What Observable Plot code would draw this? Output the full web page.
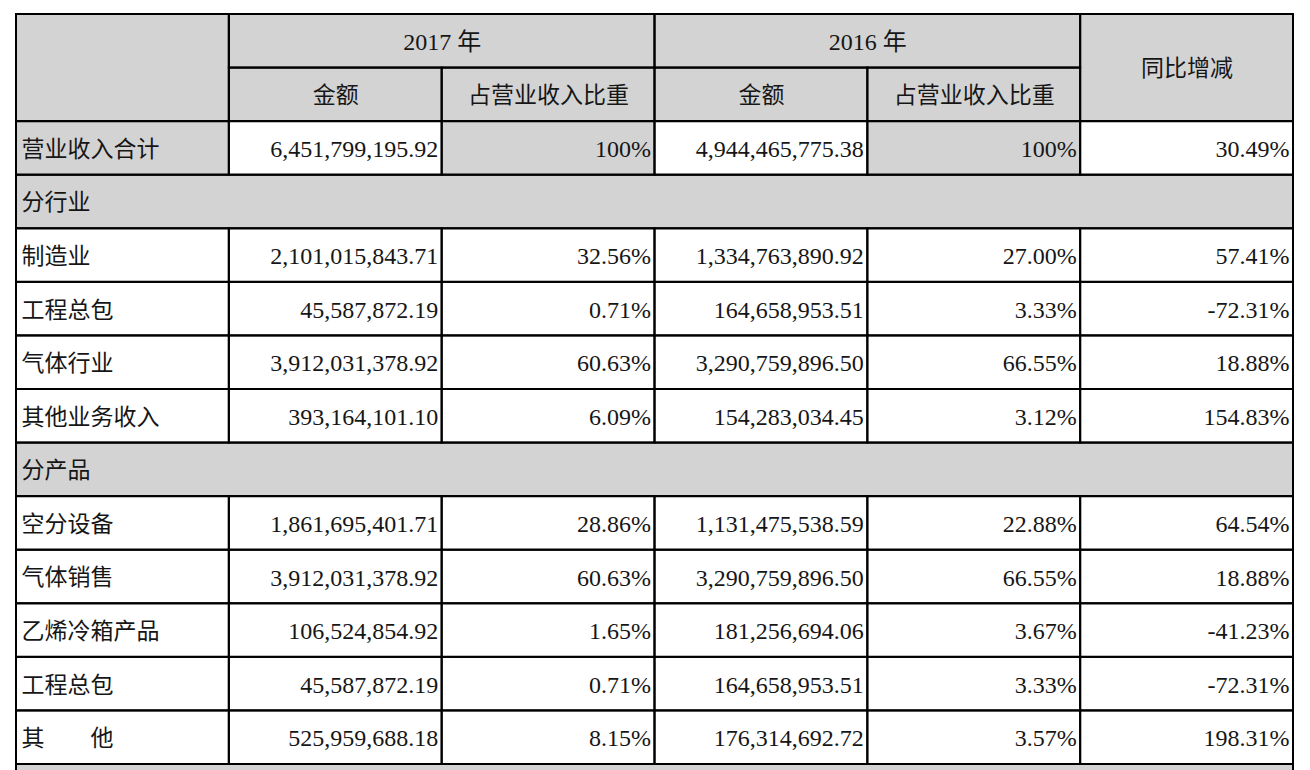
<!DOCTYPE html>
<html>
<head>
<meta charset="utf-8">
<script src="https://cdn.jsdelivr.net/npm/d3@7"></script>
<script src="https://cdn.jsdelivr.net/npm/@observablehq/plot@0.6"></script>
<style>
  html, body { margin: 0; padding: 0; background: #fff; overflow: hidden; }
</style>
</head>
<body>
<div id="chart"></div>
<script>
// ---- data ----
const yearHeaders = ["2017 年", "2016 年"];
const subHeaders = ["金额", "占营业收入比重"];
const yoyHeader = "同比增减";

const totalLabel = "营业收入合计";
const totalAmt2017 = 6451799195.92;
const totalPct2017 = 100;
const totalAmt2016 = 4944465775.38;
const totalPct2016 = 100;
const totalYoy = 30.49;

const sectionLabels = ["分行业", "分产品"];

const industryLabels = ["制造业", "工程总包", "气体行业", "其他业务收入"];
const industryAmt2017 = [2101015843.71, 45587872.19, 3912031378.92, 393164101.10];
const industryPct2017 = [32.56, 0.71, 60.63, 6.09];
const industryAmt2016 = [1334763890.92, 164658953.51, 3290759896.50, 154283034.45];
const industryPct2016 = [27.00, 3.33, 66.55, 3.12];
const industryYoy = [57.41, -72.31, 18.88, 154.83];

const productLabels = ["空分设备", "气体销售", "乙烯冷箱产品", "工程总包", "其\u3000\u3000他"];
const productAmt2017 = [1861695401.71, 3912031378.92, 106524854.92, 45587872.19, 525959688.18];
const productPct2017 = [28.86, 60.63, 1.65, 0.71, 8.15];
const productAmt2016 = [1131475538.59, 3290759896.50, 181256694.06, 164658953.51, 176314692.72];
const productPct2016 = [22.88, 66.55, 3.67, 3.33, 3.57];
const productYoy = [64.54, 18.88, -41.23, -72.31, 198.31];

// ---- build table ----
const GRAY = "#d3d3d3";
const WHITE = "#ffffff";
const fmtAmt = d3.format(",.2f");
const fmtPct = v => (v === 100 ? "100" : v.toFixed(2)) + "%";

const cells = [];   // {x1,x2,y1,y2,fill}
const texts = [];   // {x,y,text,anchor,size}

// header
cells.push({x1: 0, x2: 1, y1: 0, y2: 2, fill: GRAY});
yearHeaders.forEach((h, i) => {
  const c = 1 + i * 2;
  cells.push({x1: c, x2: c + 2, y1: 0, y2: 1, fill: GRAY});
  texts.push({x: c + 1, y: 0.5, text: h, anchor: "middle", size: 24});
  subHeaders.forEach((s, j) => {
    cells.push({x1: c + j, x2: c + j + 1, y1: 1, y2: 2, fill: GRAY});
    texts.push({x: c + j + 0.5, y: 1.5, text: s, anchor: "middle", size: 23});
  });
});
cells.push({x1: 5, x2: 6, y1: 0, y2: 2, fill: GRAY});
texts.push({x: 5.5, y: 1, text: yoyHeader, anchor: "middle", size: 23});

function addRow(r, label, vals, fills) {
  cells.push({x1: 0, x2: 1, y1: r, y2: r + 1, fill: fills[0]});
  texts.push({x: 0, y: r + 0.5, text: label, anchor: "start", size: 23});
  vals.forEach((v, j) => {
    cells.push({x1: j + 1, x2: j + 2, y1: r, y2: r + 1, fill: fills[j + 1]});
    texts.push({x: j + 2, y: r + 0.5, text: v, anchor: "end", size: 24});
  });
}
function addSection(r, label) {
  cells.push({x1: 0, x2: 6, y1: r, y2: r + 1, fill: GRAY});
  texts.push({x: 0, y: r + 0.5, text: label, anchor: "start", size: 23});
}

let row = 2;
addRow(row++, totalLabel,
  [fmtAmt(totalAmt2017), fmtPct(totalPct2017), fmtAmt(totalAmt2016), fmtPct(totalPct2016), fmtPct(totalYoy)],
  [GRAY, WHITE, GRAY, WHITE, GRAY, WHITE]);
addSection(row++, sectionLabels[0]);
industryLabels.forEach((l, i) => addRow(row++, l,
  [fmtAmt(industryAmt2017[i]), fmtPct(industryPct2017[i]), fmtAmt(industryAmt2016[i]), fmtPct(industryPct2016[i]), fmtPct(industryYoy[i])],
  [WHITE, WHITE, WHITE, WHITE, WHITE, WHITE]));
addSection(row++, sectionLabels[1]);
productLabels.forEach((l, i) => addRow(row++, l,
  [fmtAmt(productAmt2017[i]), fmtPct(productPct2017[i]), fmtAmt(productAmt2016[i]), fmtPct(productPct2016[i]), fmtPct(productYoy[i])],
  [WHITE, WHITE, WHITE, WHITE, WHITE, WHITE]));
// the next (cut-off) gray row at the bottom
const tail = [{x1: 0, x2: 6, y1: row, y2: row + 1, fill: GRAY}];

const FONT = "'Liberation Serif', 'Times New Roman', 'Noto Sans CJK SC', serif";

const textMark = (anchor, size, dx) =>
  Plot.text(texts.filter(d => d.anchor === anchor && d.size === size), {
    x: "x", y: "y", text: "text", textAnchor: anchor, dx, dy: 1,
    fontSize: size, fill: "#161616", fontFamily: FONT
  });

const chart = Plot.plot({
  width: 1310,
  height: 770,
  marginTop: 0, marginBottom: 0, marginLeft: 0, marginRight: 0,
  x: {domain: [0, 6], range: [16, 1293], axis: null},
  y: {domain: [0, 14], range: [14, 764], axis: null},
  style: {fontFamily: FONT, background: "#fff", overflow: "hidden"},
  marks: [
    Plot.rect(tail, {x1: "x1", x2: "x2", y1: "y1", y2: "y2", fill: "fill", stroke: "#000", strokeWidth: 2}),
    Plot.rect(cells, {x1: "x1", x2: "x2", y1: "y1", y2: "y2", fill: "fill"}),
    Plot.rect(cells, {x1: "x1", x2: "x2", y1: "y1", y2: "y2", fill: "none", stroke: "#000", strokeWidth: 2}),
    textMark("middle", 24, 0),
    textMark("middle", 23, 0),
    textMark("start", 23, 5),
    textMark("end", 24, -4)
  ]
});
document.getElementById("chart").appendChild(chart);
</script>
</body>
</html>
